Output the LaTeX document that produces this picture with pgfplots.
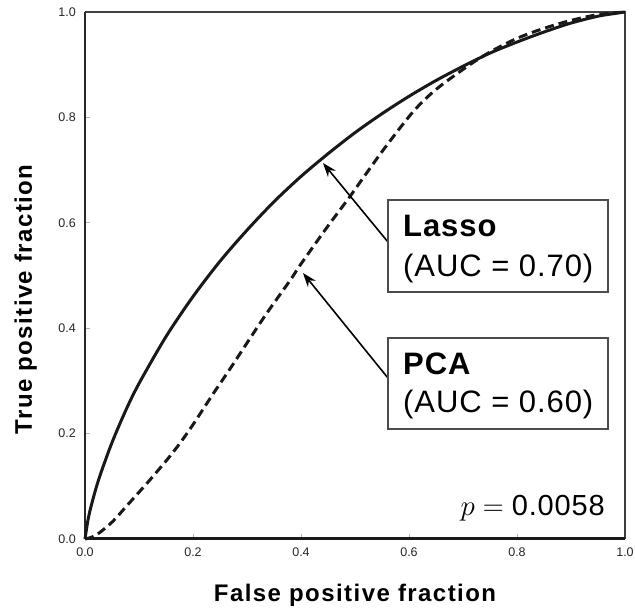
\RequirePackage{fix-cm}
\documentclass[border=0pt]{standalone}
\usepackage{fontspec}
\setmainfont{Liberation Sans}
\usepackage{pgfplots}
\pgfplotsset{compat=1.18}
\usetikzlibrary{arrows.meta}
\newfontfamily\boxfont[LetterSpace=3]{Liberation Sans}
\newfontfamily\labfont[LetterSpace=6]{Liberation Sans}

\pgfplotstableread{
x y
0 0
0.005 0.033
0.01 0.057
0.02 0.095
0.03 0.127
0.05 0.183
0.075 0.243
0.1 0.295
0.15 0.384
0.2 0.460
0.25 0.527
0.3 0.586
0.35 0.640
0.4 0.688
0.45 0.731
0.5 0.771
0.55 0.807
0.6 0.840
0.65 0.870
0.7 0.897
0.75 0.922
0.8 0.943
0.85 0.962
0.9 0.979
0.95 0.992
0.98 0.997
1 1
}\lasso

\pgfplotstableread{
x y
0 0
0.02 0.007
0.05 0.032
0.08 0.066
0.115 0.106
0.15 0.148
0.176 0.182
0.2 0.217
0.237 0.275
0.27 0.325
0.3 0.372
0.337 0.429
0.38 0.491
0.4 0.522
0.45 0.594
0.49 0.649
0.55 0.735
0.607 0.810
0.65 0.853
0.707 0.896
0.75 0.924
0.8 0.950
0.85 0.969
0.9 0.984
0.95 0.995
1 1
}\pca

\begin{document}
\begin{tikzpicture}
\begin{axis}[
  scale only axis, width=540pt, height=527pt,
  xmin=0, xmax=1, ymin=0, ymax=1,
  clip=false,
  axis line style={draw=none},
  xtick={0,0.2,0.4,0.6,0.8,1}, ytick={0,0.2,0.4,0.6,0.8,1},
  xtick pos=bottom, ytick pos=left,
  tick align=inside,
  major tick length=5pt,
  tick style={black!30, line width=0.8pt},
  /pgf/number format/assume math mode=true,
  ticklabel style={font=\fontsize{12.5}{14}\selectfont, text=black!85, inner sep=0pt,
    /pgf/number format/fixed, /pgf/number format/fixed zerofill, /pgf/number format/precision=1},
  xticklabel style={yshift=-9pt},
  yticklabel style={xshift=-9pt},
]
\draw[black!75, line width=1.2pt] (axis cs:0,1) -- (axis cs:1,1) -- (axis cs:1,0);
\draw[black!85, line width=2pt] (axis cs:0,0) -- (axis cs:0,1);
\draw[black!90, line width=3pt] (axis cs:0,0) -- (axis cs:1,0);

\addplot[black!90, line width=3pt, smooth, no markers] table[x=x,y=y] {\lasso};
\addplot[black!90, line width=3pt, smooth, no markers, dash pattern=on 9pt off 5pt] table[x=x,y=y] {\pca};

\draw[black, line width=1.6pt, -{Stealth[length=14pt, width=10pt]}] (axis cs:0.561,0.5636) -- (axis cs:0.4407,0.7135);
\draw[black, line width=1.6pt, -{Stealth[length=14pt, width=10pt]}] (axis cs:0.561,0.3055) -- (axis cs:0.4037,0.5047);

\draw[black!70, line width=1.3pt, fill=white] (axis cs:0.561,0.4687) rectangle (axis cs:0.9685,0.6433);
\draw[black!70, line width=1.3pt, fill=white] (axis cs:0.561,0.2087) rectangle (axis cs:0.9685,0.3814);

\node[anchor=base west, inner sep=0pt, font=\boxfont\fontsize{31}{34}\selectfont\bfseries] at (axis cs:0.5889,0.5731) {Lasso};
\node[anchor=base west, inner sep=0pt, font=\boxfont\fontsize{31}{34}\selectfont] at (axis cs:0.5889,0.4972) {(AUC = 0.70)};
\node[anchor=base west, inner sep=0pt, font=\boxfont\fontsize{31}{34}\selectfont\bfseries] at (axis cs:0.5889,0.3112) {PCA};
\node[anchor=base west, inner sep=0pt, font=\boxfont\fontsize{31}{34}\selectfont] at (axis cs:0.5889,0.2391) {(AUC = 0.60)};

\node[anchor=base east, inner sep=0pt, font=\boxfont\fontsize{29}{32}\selectfont] at (axis cs:0.963,0.0455) {$p = {}$0.0058};
\end{axis}
\node[rotate=90, anchor=base, inner sep=0pt, font=\labfont\fontsize{24}{28}\selectfont\bfseries] at ([xshift=-53pt,yshift=-24pt]current axis.west) {True positive fraction};
\node[anchor=base, inner sep=0pt, font=\labfont\fontsize{24}{28}\selectfont\bfseries] at ([yshift=-63pt]current axis.south) {False positive fraction};
\pgfresetboundingbox
\path ([shift={(-85pt,-73pt)}]current axis.south west) rectangle ([shift={(10pt,12pt)}]current axis.north east);
\end{tikzpicture}
\end{document}
